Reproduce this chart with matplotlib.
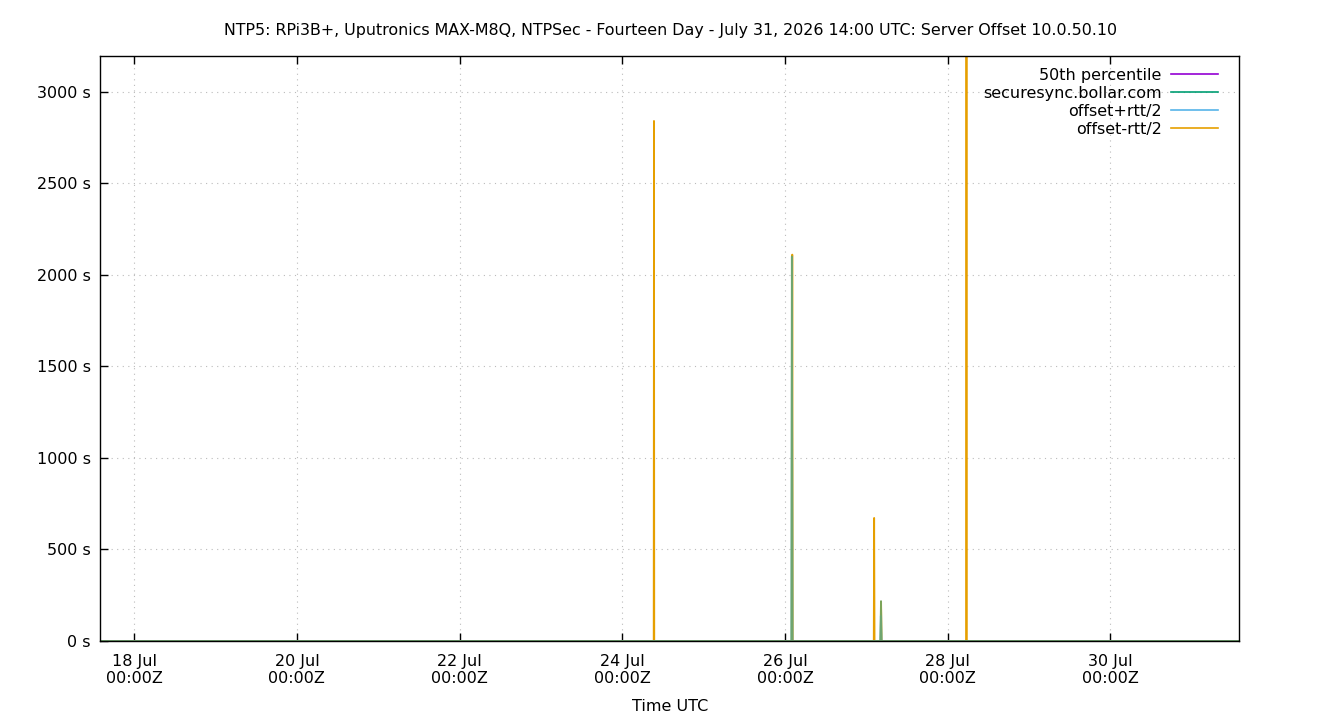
import matplotlib
matplotlib.use("Agg")
import matplotlib.pyplot as plt
import matplotlib.dates as mdates
import pandas as pd
from matplotlib.lines import Line2D

plt.rcParams['font.family'] = ['DejaVu Sans']

title = "NTP5: RPi3B+, Uputronics MAX-M8Q, NTPSec - Fourteen Day - July 31, 2026 14:00 UTC: Server Offset 10.0.50.10"
x_start = "2026-07-17 14:00"
x_end = "2026-07-31 14:00"
y_max = 3193
y_ticks = [0, 500, 1000, 1500, 2000, 2500, 3000]
y_tick_labels = ["0 s", "500 s", "1000 s", "1500 s", "2000 s", "2500 s", "3000 s"]
tick_days = ["2026-07-18", "2026-07-20", "2026-07-22", "2026-07-24",
             "2026-07-26", "2026-07-28", "2026-07-30"]
tick_labels = ["18 Jul\n00:00Z", "20 Jul\n00:00Z", "22 Jul\n00:00Z", "24 Jul\n00:00Z",
               "26 Jul\n00:00Z", "28 Jul\n00:00Z", "30 Jul\n00:00Z"]

# 50th percentile
p50_times = ["2026-07-17 14:00", "2026-07-31 14:00"]
p50_values = [0, 0]

# securesync.bollar.com
ss_times = ["2026-07-17 14:00", "2026-07-26 01:50", "2026-07-26 02:00", "2026-07-26 02:12",
            "2026-07-27 04:05", "2026-07-27 04:18", "2026-07-27 04:30", "2026-07-31 14:00"]
ss_values = [0, 0, 2100, 0, 0, 218, 0, 0]

# offset+rtt/2
plus_times = ["2026-07-17 14:00", "2026-07-26 01:52", "2026-07-26 02:02", "2026-07-26 02:12",
              "2026-07-27 04:05", "2026-07-27 04:15", "2026-07-27 04:28", "2026-07-31 14:00"]
plus_values = [0, 0, 2095, 0, 0, 137, 0, 0]

# offset-rtt/2
minus_times = ["2026-07-17 14:00", "2026-07-24 09:15", "2026-07-24 09:20", "2026-07-24 09:25",
               "2026-07-26 02:00", "2026-07-26 02:08", "2026-07-26 02:16",
               "2026-07-27 02:10", "2026-07-27 02:17", "2026-07-27 02:24",
               "2026-07-27 04:12", "2026-07-27 04:20", "2026-07-27 04:28",
               "2026-07-28 05:25", "2026-07-28 05:31", "2026-07-28 05:37", "2026-07-31 14:00"]
minus_values = [0, 0, 2840, 0, 0, 2110, 0, 0, 672, 0, 0, 215, 0, 0, 3600, 0, 0]

W, H = 1340, 720
fig = plt.figure(figsize=(W / 100, H / 100), dpi=100)
ax_w = 1239.3 - 100.3
ax_h = 641 - 56.3
ax = fig.add_axes([100.3 / W, (H - 641) / H, ax_w / W, ax_h / H])

fs = 11.5
lw = 1.3
ax.plot(pd.to_datetime(p50_times), p50_values, color="#9400d3", lw=lw, label="50th percentile", zorder=2)
ax.plot(pd.to_datetime(minus_times), minus_values, color="#e69f00", lw=lw, label="offset-rtt/2", zorder=3)
ax.plot(pd.to_datetime(plus_times), plus_values, color="#56b4e9", lw=lw, label="offset+rtt/2", zorder=4, alpha=0.6)
ax.plot(pd.to_datetime(ss_times), ss_values, color="#6aa56a", lw=lw, label="securesync.bollar.com", zorder=5, alpha=0.85)

ax.set_xlim(pd.Timestamp(x_start), pd.Timestamp(x_end))
ax.set_ylim(0, y_max)
ax.set_yticks(y_ticks)
ax.set_yticklabels(y_tick_labels, fontsize=fs)
ax.set_xticks(pd.to_datetime(tick_days))
ax.set_xticklabels(tick_labels, fontsize=fs, linespacing=1.17)
ax.tick_params(axis="x", direction="in", length=6, width=1, top=True, pad=9.5)
ax.tick_params(axis="y", direction="in", length=6, width=1, right=False, pad=7)
ax.grid(True, color="#bbbbbb", linestyle=(0, (1, 4)), lw=0.8)
for s in ax.spines.values():
    s.set_linewidth(1.0)
    s.set_zorder(6)

ax.set_xlabel("Time UTC", fontsize=fs, labelpad=9.5)
fig.text(670 / W, 1 - 30 / H, title, ha="center", va="center", fontsize=11.43)

handles = [Line2D([], [], color="#9400d3", lw=1.2),
           Line2D([], [], color="#009e73", lw=1.2),
           Line2D([], [], color="#56b4e9", lw=1.2),
           Line2D([], [], color="#e69f00", lw=1.2)]
labels = ["50th percentile", "securesync.bollar.com", "offset+rtt/2", "offset-rtt/2"]
leg = ax.legend(handles, labels, loc="upper right", frameon=False, markerfirst=False,
                fontsize=fs, handlelength=2.9, handletextpad=0.6, labelspacing=0.18,
                borderaxespad=0.3, borderpad=0.5,
                bbox_to_anchor=(1 - 9 / ax_w, 1 + 1 / ax_h))
leg.set_zorder(10)

fig.savefig("out.png", dpi=100)
